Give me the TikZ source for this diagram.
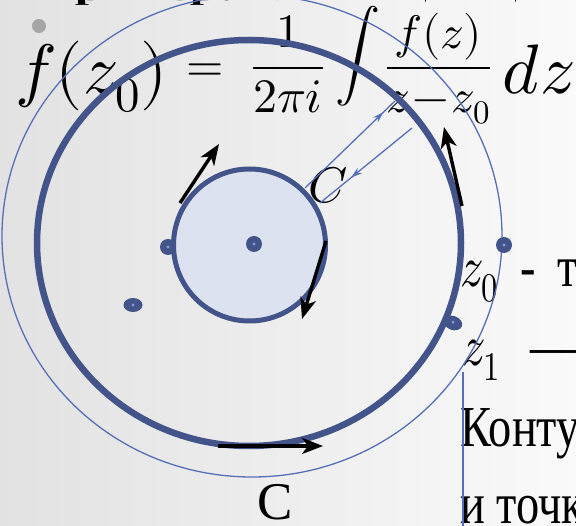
\documentclass[tikz,border=0pt]{standalone}
\usepackage{fontspec}
\usepackage{unicode-math}
\setmainfont{Liberation Serif}
\usetikzlibrary{arrows.meta,shapes.geometric,decorations.markings}
\definecolor{rim}{HTML}{42548A}
\definecolor{disc}{HTML}{DDE2F0}
\definecolor{wire}{HTML}{5570B8}
\tikzset{
  pole/.style={circle, fill=rim, draw=none, minimum size=16pt, inner sep=0pt,
    path picture={\fill[wire!70!white] (path picture bounding box.center) circle (1.6pt);}},
  flat pole/.style={pole, ellipse, minimum width=19pt, minimum height=14pt},
  turn/.style={-{Stealth[length=21pt,width=16pt,inset=6pt]}, line width=3.4pt, black},
  ray/.style={wire, line width=1.3pt,
    decoration={markings, mark=at position #1 with {\arrow{Stealth[length=11pt,width=7pt]}}},
    postaction={decorate}},
  txt/.style={inner sep=0pt, font=\fontsize{58}{60}\selectfont},
  eq/.style={inner sep=0pt, font=\fontsize{#1}{#1}\selectfont}
}
\newcommand{\narrow}[1]{\scalebox{0.8}[1]{#1}}
\begin{document}
\begin{tikzpicture}[x=1pt, y=-1pt]
\useasboundingbox (0,0) rectangle (576,526);
\shade[left color={rgb,255:red,226;green,226;blue,226}, right color={rgb,255:red,250;green,250;blue,250}] (0,0) rectangle (576,526);

% slide title (cut by the frame)
\node[anchor=base west, inner sep=0pt] (title) at (35,1) {\resizebox{200pt}{15pt}{\bfseries Пример:}};
\node[anchor=base west, inner sep=0pt] (example) at (270,1) {\resizebox{292pt}{15pt}{$\symbf{e^z\quad -\quad 1\quad +\quad z\quad +\quad \cdot}$}};

% Cauchy formula
\node[eq=70, anchor=base west] (lhs) at (15,94) {$f(z_0)$};
\node[eq=48, anchor=base] (equal) at (205.5,82) {$=$};
\node[eq=48, anchor=base] (frac1) at (288,80) {$\displaystyle\frac{1}{2\pi i}$};
\node[eq=45, anchor=base] (integral) at (358,68) {$\displaystyle\int$};
\node[eq=47, anchor=base] (frac2) at (438.5,80) {$\medmuskip=1mu\displaystyle\frac{f(z)}{z-z_0}$};
\node[eq=70, anchor=base west] (dz) at (502,94) {$dz$};

% right column
\node[txt, anchor=base west] (lz0) at (460,287) {\narrow{$z_0$\hspace{28pt}-\hspace{26pt}точка}};
\node[txt, anchor=base west] (lz1) at (462,366) {\narrow{$z_1$\hspace{38pt}—}};
\node[txt, anchor=base west] (kontur) at (460,447) {\narrow{Контур}};
\node[txt, anchor=base west] (tochki) at (460,524) {\narrow{и точки}};

\node[anchor=base, inner sep=0pt, font=\fontsize{50}{50}\selectfont] (cin) at (328,203) {$C$};
\node[anchor=base, inner sep=0pt, font=\fontsize{53}{53}\selectfont] (cout) at (275,520) {C};
\node[circle, fill=gray!70, minimum size=14pt, inner sep=0pt] (bullet) at (39,26) {};

% contours
\coordinate (vtop) at (463,372);
\coordinate (vbot) at (463,526);
\draw[wire, line width=1.2pt] (vtop) -- (vbot);
\draw[wire, line width=1.3pt] (252,236) ellipse [x radius=250pt, y radius=241pt];
\draw[rim, line width=6.5pt] (249,243) ellipse [x radius=212pt, y radius=203pt];
\node[circle, draw=rim, fill=disc, line width=5pt, minimum size=152pt, inner sep=0pt] (inner) at (249.5,245) {};

% points
\node[pole] (p0) at (254,244) {};
\node[pole] (p1) at (168,247) {};
\node[flat pole] (p2) at (133,305) {};
\node[flat pole, rotate=-20] (p3) at (453,323) {};
\node[pole] (p4) at (504,245) {};

% directions
\coordinate (t1a) at (180,203);
\coordinate (t1b) at (219,144);
\coordinate (t2a) at (326,241);
\coordinate (t2b) at (302,319);
\coordinate (t3a) at (462,206);
\coordinate (t3b) at (444,127);
\coordinate (t4a) at (218,446);
\coordinate (t4b) at (323,446);
\draw[turn] (t1a) -- (t1b);
\draw[turn] (t2a) -- (t2b);
\draw[turn] (t3a) -- (t3b);
\draw[turn] (t4a) -- (t4b);

\coordinate (r1a) at (305,188);
\coordinate (r1b) at (395,101);
\coordinate (r2a) at (412,128);
\coordinate (r2b) at (320,203);
\draw[ray=0.87] (r1a) -- (r1b);
\draw[ray=0.66] (r2a) -- (r2b);
\end{tikzpicture}
\end{document}
